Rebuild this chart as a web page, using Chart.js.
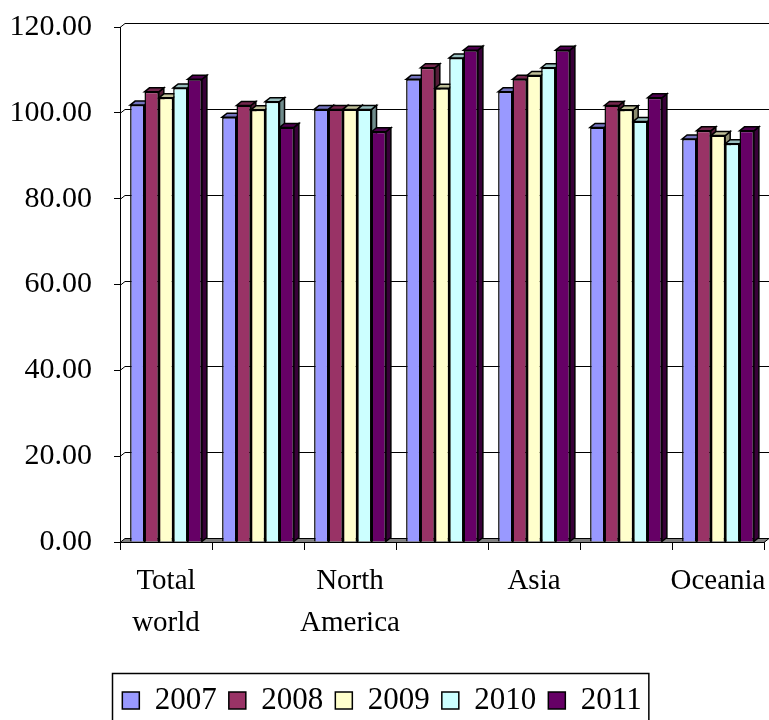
<!DOCTYPE html>
<html>
<head>
<meta charset="utf-8">
<script src="https://cdn.jsdelivr.net/npm/chart.js@4.4.1/dist/chart.umd.min.js"></script>
<style>
  html, body { margin: 0; padding: 0; background: #fff; }
  #wrap { width: 769px; height: 720px; }
</style>
</head>
<body>
<div id="wrap"><canvas id="c"></canvas></div>
<script>
// categories (every other label is hidden, as in the original export)
const regions = [['Total', 'world'], 'Europe', ['North', 'America'], 'South America', 'Asia', 'Africa', 'Oceania'];
const years = ['2007', '2008', '2009', '2010', '2011'];

const v2007 = [101.8, 99.0, 100.8, 107.8, 104.9, 96.6, 93.9];
const v2008 = [104.9, 101.7, 100.8, 110.5, 107.8, 101.7, 95.8];
const v2009 = [103.5, 100.7, 100.8, 105.7, 108.7, 100.7, 94.7];
const v2010 = [105.8, 102.6, 100.8, 112.8, 110.5, 98.0, 92.8];
const v2011 = [107.8, 96.6, 95.6, 114.6, 114.6, 103.5, 95.8];

const yTicks = [0, 20, 40, 60, 80, 100, 120];

const colors = ['#9999FF', '#993366', '#FFFFCC', '#CCFFFF', '#660066'];
const seriesValues = [v2007, v2008, v2009, v2010, v2011];

const FONT = "'Liberation Serif', 'Times New Roman', serif";
const DX = 5, DY = 4;

function shade(hex, f) {
    const n = parseInt(hex.slice(1), 16);
    const r = Math.round(((n >> 16) & 255) * f);
    const g = Math.round(((n >> 8) & 255) * f);
    const b = Math.round((n & 255) * f);
    return `rgb(${r},${g},${b})`;
}

// back wall gridlines + 3D side/top faces, drawn before the front faces
const depthPlugin = {
    id: 'depth',
    beforeDatasetsDraw(chart) {
        const ctx = chart.ctx;
        const area = chart.chartArea;
        const y = chart.scales.y;
        ctx.save();
        ctx.strokeStyle = '#000';
        ctx.lineWidth = 1;
        yTicks.forEach(t => {
            if (t === 0) return;
            const py = Math.round(y.getPixelForValue(t)) + 0.5;
            ctx.beginPath();
            ctx.moveTo(area.left, py);
            ctx.lineTo(area.left + DX, py - DY);
            ctx.lineTo(area.right + DX, py - DY);
            ctx.stroke();
        });
        // floor edge
        const by = Math.round(y.getPixelForValue(0)) + 0.5;
        ctx.fillStyle = '#808080';
        ctx.beginPath();
        ctx.moveTo(area.left, by);
        ctx.lineTo(area.left + DX, by - DY);
        ctx.lineTo(area.right + DX, by - DY);
        ctx.lineTo(area.right, by);
        ctx.closePath();
        ctx.fill();
        ctx.stroke();

        ctx.lineWidth = 1.5;
        chart.data.datasets.forEach((ds, di) => {
            const meta = chart.getDatasetMeta(di);
            meta.data.forEach(bar => {
                const l = bar.x - bar.width / 2;
                const r = bar.x + bar.width / 2;
                const top = bar.y;
                const base = bar.base;
                // side
                ctx.fillStyle = shade(colors[di], 0.55);
                ctx.beginPath();
                ctx.moveTo(r, top);
                ctx.lineTo(r + DX, top - DY);
                ctx.lineTo(r + DX, base - DY);
                ctx.lineTo(r, base);
                ctx.closePath();
                ctx.fill();
                ctx.stroke();
                // top
                ctx.fillStyle = shade(colors[di], 0.75);
                ctx.beginPath();
                ctx.moveTo(l, top);
                ctx.lineTo(l + DX, top - DY);
                ctx.lineTo(r + DX, top - DY);
                ctx.lineTo(r, top);
                ctx.closePath();
                ctx.fill();
                ctx.stroke();
            });
        });
        ctx.restore();
    }
};

// frame around the legend
const legendBox = {
    id: 'legendBox',
    afterDraw(chart) {
        const lg = chart.legend;
        if (!lg || !lg.legendHitBoxes.length) return;
        const boxes = lg.legendHitBoxes;
        const last = boxes[boxes.length - 1];
        const left = boxes[0].left - 10;
        const right = last.left + last.width + 7;
        const top = boxes[0].top - 12;
        const ctx = chart.ctx;
        ctx.save();
        ctx.strokeStyle = '#000';
        ctx.lineWidth = 1.5;
        ctx.strokeRect(Math.round(left) + 0.5, Math.round(top) + 0.5, right - left, 70);
        ctx.restore();
    }
};

new Chart(document.getElementById('c'), {
    type: 'bar',
    data: {
        labels: regions,
        datasets: years.map((yr, i) => ({
            label: yr,
            data: seriesValues[i],
            backgroundColor: colors[i],
            borderColor: '#000',
            borderWidth: 1.5,
            categoryPercentage: 0.78,
            barPercentage: 1.0
        }))
    },
    options: {
        responsive: true,
        maintainAspectRatio: false,
        animation: false,
        layout: { padding: { left: 0, right: 5, top: 27, bottom: -6 } },
        plugins: {
            legend: {
                position: 'bottom',
                labels: {
                    color: '#000',
                    font: { family: FONT, size: 31 },
                    boxWidth: 17,
                    boxHeight: 17,
                    padding: 12
                }
            },
            tooltip: { enabled: false }
        },
        scales: {
            x: {
                afterFit(scale) {
                    scale.height = 131;
                    scale.paddingLeft = 0;
                    scale.paddingRight = 0;
                },
                grid: {
                    offset: true,
                    drawOnChartArea: false,
                    color: '#000',
                    tickLength: 8
                },
                border: { color: '#000', width: 1 },
                ticks: {
                    color: '#000',
                    autoSkip: false,
                    maxRotation: 0,
                    padding: 10,
                    font: { family: FONT, size: 29, lineHeight: 1.45 },
                    callback: function (val, idx) {
                        return idx % 2 === 0 ? this.getLabelForValue(val) : '';
                    }
                }
            },
            y: {
                min: 0,
                max: 120,
                afterFit(scale) {
                    scale.width = 120;
                    scale.paddingTop = 0;
                    scale.paddingBottom = 0;
                },
                afterBuildTicks(scale) { scale.ticks = yTicks.map(v => ({ value: v })); },
                grid: {
                    drawOnChartArea: false,
                    color: '#000',
                    tickLength: 6
                },
                border: { color: '#000', width: 1 },
                ticks: {
                    color: '#000',
                    padding: 22,
                    font: { family: FONT, size: 30 },
                    callback: v => v.toFixed(2)
                }
            }
        }
    },
    plugins: [depthPlugin, legendBox]
});
</script>
</body>
</html>
